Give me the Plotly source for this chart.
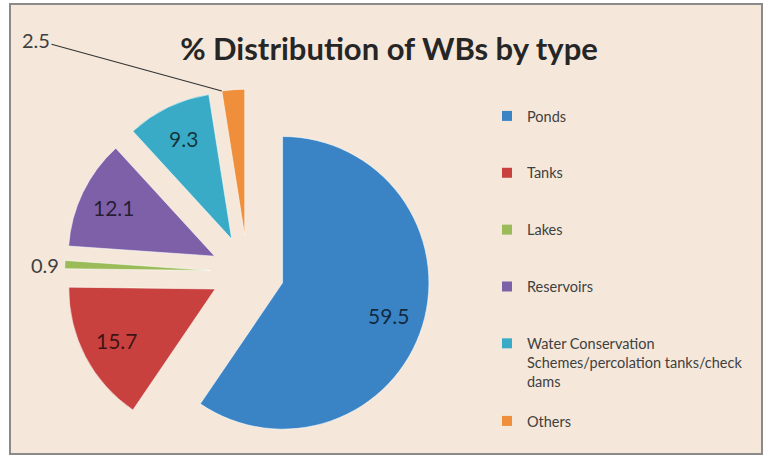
import math
import plotly.graph_objects as go

# ---- data ----
labels = ["Ponds", "Tanks", "Lakes", "Reservoirs",
          "Water Conservation<br>Schemes/percolation tanks/check<br>dams", "Others"]
values = [59.5, 15.7, 0.9, 12.1, 9.3, 2.5]
colors = ["#3a84c6", "#c8413f", "#9bbb59", "#7d60a8", "#3aabc6", "#ef8e3b"]
title_text = "% Distribution of WBs by type"

# ---- layout constants ----
W, H = 765, 457
BG = "#f5e8da"
PULL = 0.25
dom_x = [0.0753, 0.572]
dom_y = [0.0044, 0.805]
# label style per slice: inside label, outside (native) label, leader-line label
label_mode = ["in", "in", "out", "in", "in", "leader"]
LEG_FONT = dict(family="Lato", size=14.5, color="#404040")
IN_FONT = dict(family="Lato", size=21, color="rgba(0,0,0,0.7)")
OUT_FONT = dict(family="Lato", size=20, color="#404040")

fig = go.Figure()
fig.add_trace(go.Pie(
    labels=labels, values=values, sort=False, direction="clockwise", rotation=0,
    pull=[PULL] * len(values),
    marker=dict(colors=colors, line=dict(color="rgba(255,255,255,0.55)", width=1)),
    texttemplate="%{value:.1f}",
    textposition=["outside" if m == "out" else "none" for m in label_mode],
    outsidetextfont=OUT_FONT,
    domain=dict(x=dom_x, y=dom_y), showlegend=False, hoverinfo="label+value",
))

# legend entries (one group per category so the spacing can be set);
# the last entry goes in a second legend below the multi-line one
for i, (lab, col) in enumerate(zip(labels, colors)):
    fig.add_trace(go.Scatter(
        x=[None], y=[None], mode="markers", name=lab, legendgroup=lab,
        legend="legend2" if i == len(labels) - 1 else "legend",
        marker=dict(symbol="square", size=10, color=col), hoverinfo="skip",
    ))

# pie geometry (same rule plotly uses) to place the data labels
box_w = W * (dom_x[1] - dom_x[0])
box_h = H * (dom_y[1] - dom_y[0])
r = min(box_w, box_h) / (2 + 2 * PULL)
cx = W * (dom_x[0] + dom_x[1]) / 2
cy = H * (1 - (dom_y[0] + dom_y[1]) / 2)
total = sum(values)


def pt(x0, y0, ang, dist):
    a = math.radians(ang)
    return x0 + dist * math.sin(a), y0 - dist * math.cos(a)


cum = 0.0
for v, mode in zip(values, label_mode):
    start = 360 * cum / total
    mid = start + 180 * v / total
    cum += v
    vx, vy = pt(cx, cy, mid, PULL * r)          # apex of the pulled slice
    if mode == "in":
        lx, ly = pt(vx, vy, mid, 0.76 * r)
        fig.add_annotation(xref="paper", yref="paper", x=lx / W, y=1 - ly / H,
                           xanchor="center", yanchor="middle",
                           text=f"{v:.1f}", showarrow=False, font=IN_FONT)
    elif mode == "leader":
        tip_x, tip_y = pt(vx, vy, start, r)
        lab_x, lab_y = 36, 40
        fig.add_annotation(
            xref="paper", yref="paper", x=tip_x / W, y=1 - tip_y / H,
            ax=lab_x - tip_x, ay=lab_y - tip_y,
            text=f"{v:.1f}", showarrow=True, arrowhead=0, arrowwidth=1.2,
            arrowcolor="#333333", standoff=0, font=OUT_FONT,
        )

fig.update_layout(
    width=W, height=H,
    margin=dict(l=0, r=0, t=0, b=0, autoexpand=False),
    paper_bgcolor="white", plot_bgcolor="rgba(0,0,0,0)",
    xaxis=dict(visible=False), yaxis=dict(visible=False),
    title=dict(text=f"<b>{title_text}</b>", x=389 / W, y=1 - 49 / H,
               xref="container", yref="container", xanchor="center", yanchor="middle",
               font=dict(family="Lato", size=31, color="#262626")),
    legend=dict(x=487 / W, y=1 - 100 / H, xanchor="left", yanchor="top",
                valign="top", tracegroupgap=35, bgcolor="rgba(0,0,0,0)",
                font=LEG_FONT),
    legend2=dict(x=487 / W, y=1 - 405 / H, xanchor="left", yanchor="top",
                 valign="top", bgcolor="rgba(0,0,0,0)", font=LEG_FONT),
    shapes=[dict(type="rect", xref="paper", yref="paper", layer="below",
                 x0=10 / W, x1=762 / W, y0=1 - 454 / H, y1=1 - 4 / H,
                 fillcolor=BG, line=dict(color="#8a8a8a", width=2))],
)

fig.write_html("out.html", config={"displayModeBar": False},
               post_script="document.body.style.margin='0';")
